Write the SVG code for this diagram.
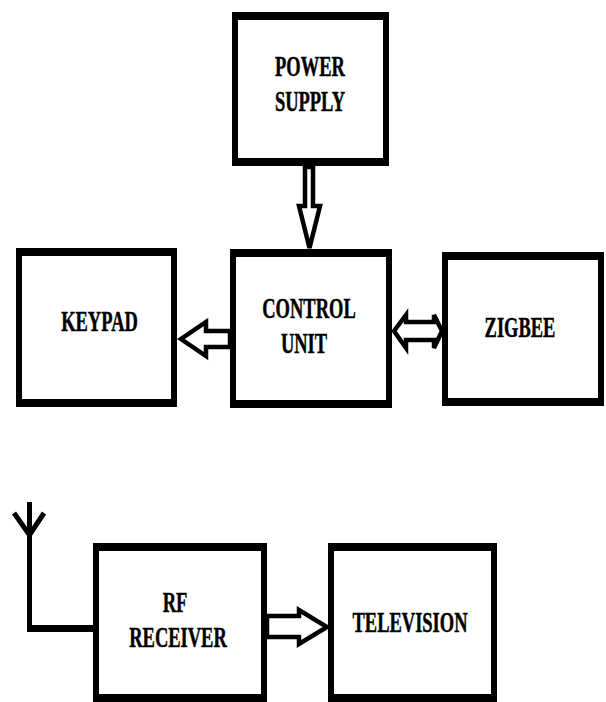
<svg xmlns="http://www.w3.org/2000/svg" width="606" height="702" viewBox="0 0 606 702">
  <style>
    .frame { fill: #000; }
    .face { fill: #fff; }
    .label { font-family: "Liberation Serif", "Times New Roman", serif; font-weight: bold; font-size: 18.5px; fill: #000; text-anchor: middle; stroke: #000; stroke-width: 0.3; }
    .hollow { fill: #fff; stroke: #000; stroke-width: 4.5; stroke-linejoin: miter; }
    .wire { fill: none; stroke: #000; stroke-linecap: butt; stroke-linejoin: miter; }
  </style>
  <rect width="606" height="702" fill="#fff"/>

  <!-- blocks: black frame with white face, heavier top/bottom edges -->
  <g id="power-supply">
    <rect class="frame" x="232" y="12" width="157" height="154"/>
    <rect class="face" x="238" y="20" width="145" height="138"/>
    <text class="label" transform="translate(310,76) scale(1,1.55)">POWER</text>
    <text class="label" transform="translate(310,111) scale(1,1.55)">SUPPLY</text>
  </g>

  <g id="keypad">
    <rect class="frame" x="16" y="248" width="161" height="159"/>
    <rect class="face" x="22" y="256" width="149" height="143"/>
    <text class="label" transform="translate(99.5,331) scale(1,1.55)">KEYPAD</text>
  </g>

  <g id="control-unit">
    <rect class="frame" x="230" y="249" width="162" height="159"/>
    <rect class="face" x="236" y="257" width="150" height="143"/>
    <text class="label" transform="translate(309,318) scale(1,1.55)">CONTROL</text>
    <text class="label" transform="translate(304,353) scale(1,1.55)">UNIT</text>
  </g>

  <g id="zigbee">
    <rect class="frame" x="442" y="252" width="162" height="154"/>
    <rect class="face" x="448" y="260" width="150" height="138"/>
    <text class="label" transform="translate(520,337) scale(1,1.55)">ZIGBEE</text>
  </g>

  <g id="rf-receiver">
    <rect class="frame" x="93" y="543" width="174" height="159"/>
    <rect class="face" x="99" y="551" width="162" height="143"/>
    <text class="label" transform="translate(175,612) scale(1,1.55)">RF</text>
    <text class="label" transform="translate(178,647) scale(1,1.55)">RECEIVER</text>
  </g>

  <g id="television">
    <rect class="frame" x="328" y="543" width="169" height="159"/>
    <rect class="face" x="334" y="551" width="157" height="143"/>
    <text class="label" transform="translate(410,632) scale(1,1.55)">TELEVISION</text>
  </g>

  <g id="antenna">
    <path class="wire" stroke-width="5" d="M29.5,502 V626"/>
    <path class="wire" stroke-width="7" d="M27,628.5 H96"/>
    <path class="wire" stroke-width="5" d="M14,513 L29.5,535 L44,513"/>
  </g>

  <!-- hollow block arrows between blocks -->
  <g id="connectors">
    <polygon class="hollow" points="305,167 305,206 299,206 309.5,248 320,206 313,206 313,167"/>
    <polygon class="hollow" points="230,331 206,331 206,322 181,339 206,356 206,347 230,347"/>
    <polygon class="hollow" points="394,331 406,315 406,322 434,322 434,315 442,331 434,348 434,340 406,340 406,348"/>
    <polygon class="hollow" points="267,616 299,616 299,610 327,627 299,644 299,637 267,637"/>
  </g>
</svg>
